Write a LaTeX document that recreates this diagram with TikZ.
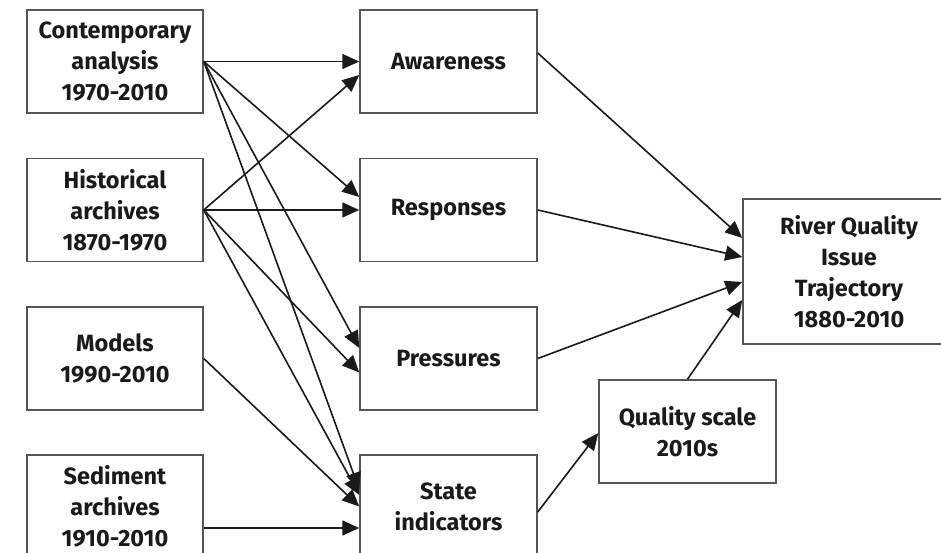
\documentclass[tikz,border=0pt]{standalone}
\usepackage{fontspec}
\setmainfont{Fira Sans}
\usetikzlibrary{arrows.meta}
\definecolor{boxline}{HTML}{555555}
\definecolor{ink}{HTML}{1A1A1A}
\begin{document}
\begin{tikzpicture}[x=1pt,y=-1pt,
  box/.style={draw=boxline, line width=1.5pt, fill=white, minimum width=176pt, minimum height=103pt,
    align=center, inner sep=0pt, text=ink, font=\fontsize{23.5}{31}\selectfont\bfseries},
  conn/.style={draw=ink, line width=1.6pt, -{Triangle[length=17pt,width=15pt]}}]
\useasboundingbox (0,0) rectangle (941,553);
\clip (0,0) rectangle (941,553);
\fill[white] (0,0) rectangle (941,553);
% left column
\node[box] (C) at (115,61.5) {Contemporary\\analysis\\1970-2010};
\node[box] (H) at (115,210) {Historical\\archives\\1870-1970};
\node[box] (M) at (115,358.5) {Models\\1990-2010};
\node[box] (S) at (115,506.5) {Sediment\\archives\\1910-2010};
% middle column
\node[box, minimum width=177pt] (A) at (448.5,61.5) {Awareness};
\node[box, minimum width=177pt] (R) at (448.5,210) {Responses};
\node[box, minimum width=177pt] (P) at (448.5,358.5) {Pressures};
\node[box, minimum width=177pt] (St) at (448.5,506.5) {State\\indicators};
% right
\node[box, minimum width=177pt] (Q) at (687.5,431.5) {Quality scale\\2010s};
\node[box, minimum width=212pt, minimum height=145pt] (RQ) at (849,271.5) {River Quality\\Issue\\Trajectory\\1880-2010};
% connectors into middle column
\draw[conn] (C.east) -- (A.west);
\draw[conn] (H.east) -- ([yshift=-13.5pt]A.west);
\draw[conn] (C.east) -- ([yshift=13pt]R.west);
\draw[conn] (H.east) -- (R.west);
\draw[conn] (C.east) -- ([yshift=10.5pt]P.west);
\draw[conn] (H.east) -- ([yshift=-14pt]P.west);
\draw[conn] (C.east) -- ([yshift=17pt]St.west);
\draw[conn] (H.east) -- ([yshift=11.5pt]St.west);
\draw[conn] (M.east) -- ([yshift=0pt]St.west);
\draw[conn] ([yshift=-21.5pt]S.east) -- ([yshift=-21.5pt]St.west);
% connectors to the right
\draw[conn] ([yshift=8.5pt]A.east) -- ([yshift=33.5pt]RQ.west);
\draw[conn] (R.east) -- ([yshift=14.5pt]RQ.west);
\draw[conn] (P.east) -- ([yshift=-10.5pt]RQ.west);
\draw[conn] (Q.north) -- ([yshift=-28.5pt]RQ.west);
\draw[conn] ([yshift=-5.5pt]St.east) -- ([yshift=-1.5pt]Q.west);
\end{tikzpicture}
\end{document}
